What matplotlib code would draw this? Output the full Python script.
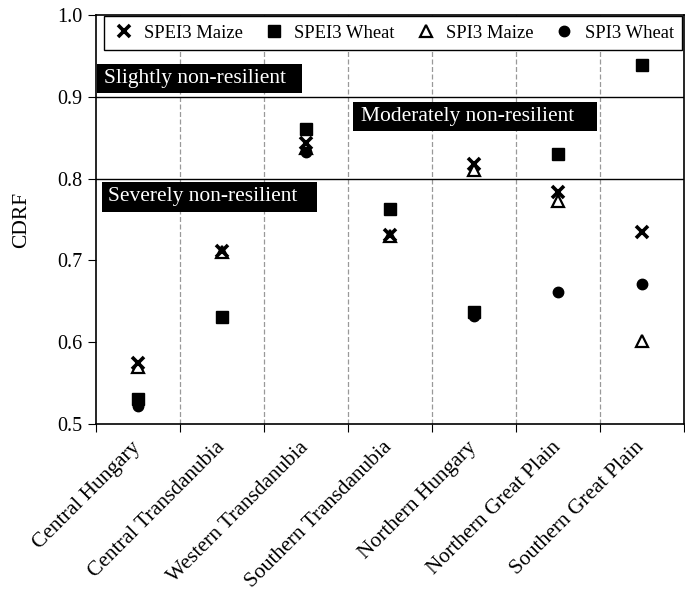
import numpy as np
import matplotlib; matplotlib.use("Agg")
import matplotlib.pyplot as plt
import matplotlib.transforms as mtrans
from matplotlib.patches import Rectangle

plt.rcParams['font.family'] = ['Liberation Serif', 'DejaVu Serif']

regions = ["Central Hungary", "Central Transdanubia", "Western Transdanubia",
           "Southern Transdanubia", "Northern Hungary", "Northern Great Plain",
           "Southern Great Plain"]
spei3_maize = [0.575, 0.712, 0.843, 0.731, 0.818, 0.783, 0.735]
spei3_wheat = [0.530, 0.631, 0.861, 0.763, 0.637, 0.830, 0.939]
spi3_maize = [0.570, 0.710, 0.838, 0.730, 0.811, 0.772, 0.601]
spi3_wheat = [0.522, np.nan, 0.832, np.nan, 0.632, 0.661, 0.671]

zone_labels = ["Slightly non-resilient", "Moderately non-resilient", "Severely non-resilient"]
zone_lines = [0.8, 0.9]

fig = plt.figure(figsize=(6.85, 6.02), dpi=100)
ax = fig.add_axes([0.140, 0.2957, 0.8585, 0.6794])
x = np.arange(len(regions))

ax.plot(x, spei3_maize, ls="none", marker="x", ms=8, mew=2.6, color="black", label="SPEI3 Maize", zorder=4)
ax.plot(x, spei3_wheat, ls="none", marker="s", ms=8, color="black", label="SPEI3 Wheat", zorder=3)
ax.plot(x, spi3_maize, ls="none", marker="^", ms=8, mew=1.6, mfc="white", color="black", label="SPI3 Maize", zorder=3)
ax.plot(x, spi3_wheat, ls="none", marker="o", ms=7.5, color="black", label="SPI3 Wheat", zorder=3)

for b in np.arange(0.5, len(regions) - 1, 1):
    ax.axvline(b, color="#999999", ls=(0, (4, 2)), lw=0.9, zorder=1)
for h in zone_lines:
    ax.axhline(h, color="black", lw=1.0, zorder=1)

# black label boxes (axes fraction): box x0, x1, y0, y1, text x
boxes = [(0.0017, 0.350, 0.809, 0.880, 0.0130),
         (0.437, 0.852, 0.716, 0.787, 0.4500),
         (0.0102, 0.376, 0.518, 0.592, 0.0210)]
for lab, (x0, x1, y0, y1, tx) in zip(zone_labels, boxes):
    ax.add_patch(Rectangle((x0, y0), x1 - x0, y1 - y0, transform=ax.transAxes,
                           facecolor="black", edgecolor="none", zorder=5))
    ax.text(tx, (y0 + y1) / 2, lab, transform=ax.transAxes, color="white",
            fontsize=15.5, va="center", ha="left", zorder=6)

ax.set_xlim(-0.5, len(regions) - 0.5)
ax.set_ylim(0.5, 1.0)
ax.set_yticks([0.5, 0.6, 0.7, 0.8, 0.9, 1.0])
ax.set_yticklabels(["0.5", "0.6", "0.7", "0.8", "0.9", "1.0"], fontsize=14.5)
ax.set_xticks(np.arange(-0.5, len(regions), 1))
ax.set_xticklabels([])
ax.tick_params(axis="x", direction="out", length=6)
ax.tick_params(axis="y", direction="out", length=6)

# rotated category labels, anchored just below each column centre
lab_tr = ax.get_xaxis_transform() + mtrans.ScaledTranslation(-0.07, -0.14, fig.dpi_scale_trans)
for xi, name in zip(x, regions):
    ax.text(xi, 0, name, transform=lab_tr, rotation=45, ha="right", va="top",
            rotation_mode="anchor", fontsize=15.5, clip_on=False)

ax.set_ylabel("CDRF", fontsize=15.5, labelpad=19)
for s in ax.spines.values():
    s.set_linewidth(1.2)

leg = ax.legend(ncol=4, loc="upper right", bbox_to_anchor=(0.997, 0.997),
                prop={"family": "Liberation Serif", "size": 13.4},
                frameon=True, fancybox=False, edgecolor="black", framealpha=1,
                handletextpad=0.5, columnspacing=1.05, handlelength=1.2, borderpad=0.45,
                borderaxespad=0.0)
leg.get_frame().set_linewidth(1.0)
leg.set_zorder(7)

fig.savefig("out.png", dpi=100)
